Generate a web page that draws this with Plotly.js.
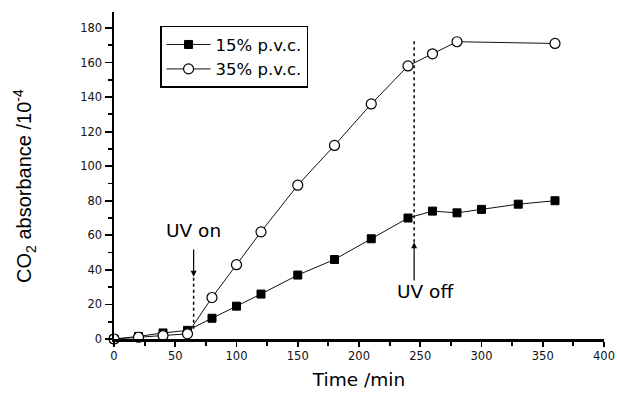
<!DOCTYPE html>
<html><head><meta charset="utf-8">
<script src="https://cdn.plot.ly/plotly-3.0.1.min.js"></script>
<style>body{margin:0;background:#fff}#chart{width:617px;height:402px}</style>
</head><body><div id="chart"></div>
<script>
// Data
const timeA = [0, 20, 40, 60, 80, 100, 120, 150, 180, 210, 240, 260, 280, 300, 330, 360];
const pvc15 = [0, 1.5, 3.5, 5, 12, 19, 26, 37, 46, 58, 70, 74, 73, 75, 78, 80];
const timeB = [0, 20, 40, 60, 80, 100, 120, 150, 180, 210, 240, 260, 280, 360];
const pvc35 = [0, 1, 2, 3, 24, 43, 62, 89, 112, 136, 158, 165, 172, 171];
const seriesNames = ['15% p.v.c.', '35% p.v.c.'];
const uvOnTime = 65, uvOffTime = 245;
const uvOnDotted = [6, 36];      // dotted line extent (absorbance)
const uvOnArrow = [52.7, 36];    // arrow tail -> head
const uvOffDotted = [56, 173];
const uvOffArrow = [33, 56];
const uvOnLabel = {x: 64.5, y: 62.5, text: 'UV on'};
const uvOffLabel = {x: 254, y: 27.2, text: 'UV off'};

const fontH = '"DejaVu Sans", Verdana, sans-serif';
const fontV = 'Arial, "Liberation Sans", Helvetica, sans-serif';
const traces = [
  {x: timeA, y: pvc15, name: seriesNames[0], mode: 'lines+markers', cliponaxis: false,
   line: {color: '#111', width: 1},
   marker: {symbol: 'square', size: 8, color: '#000', line: {color: '#000', width: 1}}},
  {x: timeB, y: pvc35, name: seriesNames[1], mode: 'lines+markers', cliponaxis: false,
   line: {color: '#111', width: 1},
   marker: {symbol: 'circle', size: 10, color: '#fff', line: {color: '#000', width: 1.2}}}
];
const axisCommon = {
  showline: true, linewidth: 2.5, linecolor: '#000', showgrid: false, zeroline: false,
  ticks: 'outside', tickwidth: 1.8, tickcolor: '#000',
  tickfont: {size: 11.5, color: '#111', family: fontH}
};
const layout = {
  width: 617, height: 402,
  margin: {l: 114, r: 13, t: 12, b: 63},
  paper_bgcolor: '#fff', plot_bgcolor: '#fff',
  font: {family: fontH, color: '#000'},
  showlegend: true,
  legend: {x: 0.094, y: 0.958, xanchor: 'left', yanchor: 'top', itemwidth: 44,
    bordercolor: '#000', borderwidth: 1.5, bgcolor: '#fff',
    font: {size: 16.5, family: fontH}, tracegroupgap: 0},
  xaxis: Object.assign({}, axisCommon, {range: [0, 400], tick0: 0, dtick: 50, ticklen: 5,
    minor: {dtick: 25, ticks: 'outside', ticklen: 4, tickwidth: 1.8, tickcolor: '#000', showgrid: false},
    title: {text: 'Time /min', font: {size: 18.5, family: fontH}, standoff: 11}}),
  yaxis: Object.assign({}, axisCommon, {range: [0, 189.2], tick0: 0, dtick: 20, ticklen: 7,
    minor: {dtick: 10, ticks: 'outside', ticklen: 4, tickwidth: 1.8, tickcolor: '#000', showgrid: false}}),
  shapes: [
    {type: 'line', xref: 'x', yref: 'y', x0: uvOnTime, x1: uvOnTime, y0: uvOnDotted[0], y1: uvOnDotted[1],
     line: {color: '#000', width: 1.5, dash: 'dot'}},
    {type: 'line', xref: 'x', yref: 'y', x0: uvOffTime, x1: uvOffTime, y0: uvOffDotted[0], y1: uvOffDotted[1],
     line: {color: '#000', width: 1.5, dash: 'dot'}}
  ],
  annotations: [
    {x: uvOnTime, y: uvOnArrow[1], ax: uvOnTime, ay: uvOnArrow[0], xref: 'x', yref: 'y', axref: 'x', ayref: 'y',
     text: '', showarrow: true, arrowhead: 2, arrowsize: 1, arrowwidth: 1.2, arrowcolor: '#000'},
    {x: uvOffTime, y: uvOffArrow[1], ax: uvOffTime, ay: uvOffArrow[0], xref: 'x', yref: 'y', axref: 'x', ayref: 'y',
     text: '', showarrow: true, arrowhead: 2, arrowsize: 1, arrowwidth: 1.2, arrowcolor: '#000'},
    {x: uvOnLabel.x, y: uvOnLabel.y, xref: 'x', yref: 'y', text: uvOnLabel.text, showarrow: false,
     xanchor: 'center', yanchor: 'middle', font: {size: 18.5, family: fontH}},
    {x: uvOffLabel.x, y: uvOffLabel.y, xref: 'x', yref: 'y', text: uvOffLabel.text, showarrow: false,
     xanchor: 'center', yanchor: 'middle', font: {size: 18.5, family: fontH}},
    {x: 0, y: 0.468, xref: 'paper', yref: 'paper', xshift: -89, xanchor: 'center', yanchor: 'middle',
     text: 'CO<sub>2</sub> absorbance /10<sup>-4</sup>', textangle: -90, showarrow: false,
     font: {size: 20, family: fontV}}
  ]
};
Plotly.newPlot('chart', traces, layout, {displayModeBar: false, staticPlot: true});
</script></body></html>
